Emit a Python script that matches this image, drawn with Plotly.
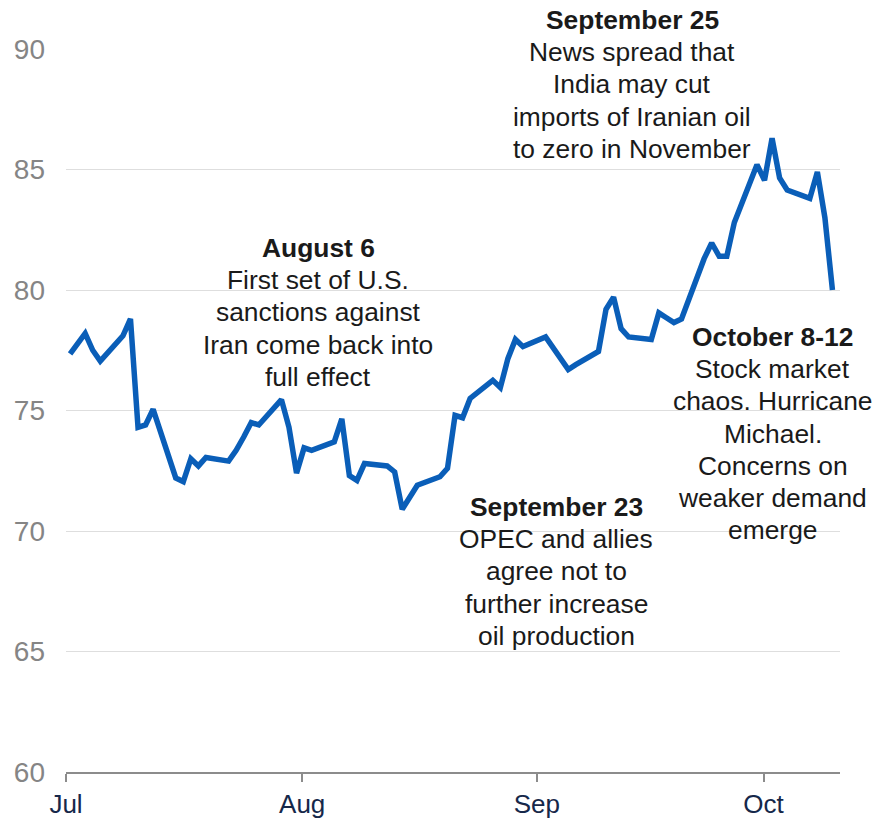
import plotly.graph_objects as go

dates = [
    "2018-07-02", "2018-07-03", "2018-07-04", "2018-07-05", "2018-07-06",
    "2018-07-09", "2018-07-10", "2018-07-11", "2018-07-12", "2018-07-13",
    "2018-07-16", "2018-07-17", "2018-07-18", "2018-07-19", "2018-07-20",
    "2018-07-23", "2018-07-24", "2018-07-25", "2018-07-26", "2018-07-27",
    "2018-07-30", "2018-07-31", "2018-08-01", "2018-08-02", "2018-08-03",
    "2018-08-06", "2018-08-07", "2018-08-08", "2018-08-09", "2018-08-10",
    "2018-08-13", "2018-08-14", "2018-08-15", "2018-08-16", "2018-08-17",
    "2018-08-20", "2018-08-21", "2018-08-22", "2018-08-23", "2018-08-24",
    "2018-08-27", "2018-08-28", "2018-08-29", "2018-08-30", "2018-08-31",
    "2018-09-03", "2018-09-04", "2018-09-05", "2018-09-06", "2018-09-07",
    "2018-09-10", "2018-09-11", "2018-09-12", "2018-09-13", "2018-09-14",
    "2018-09-17", "2018-09-18", "2018-09-19", "2018-09-20", "2018-09-21",
    "2018-09-24", "2018-09-25", "2018-09-26", "2018-09-27", "2018-09-28",
    "2018-10-01", "2018-10-02", "2018-10-03", "2018-10-04", "2018-10-05",
    "2018-10-08", "2018-10-09", "2018-10-10", "2018-10-11",
]
prices = [
    77.35, 77.8, 78.2, 77.5, 77.05,
    78.1, 78.8, 74.3, 74.4, 75.05,
    72.2, 72.05, 73.0, 72.7, 73.05,
    72.9, 73.35, 73.9, 74.5, 74.4,
    75.45, 74.3, 72.4, 73.45, 73.35,
    73.7, 74.65, 72.3, 72.1, 72.8,
    72.7, 72.45, 70.9, 71.4, 71.9,
    72.25, 72.6, 74.8, 74.7, 75.5,
    76.25, 75.95, 77.15, 77.95, 77.65,
    78.05, 77.6, 77.2, 76.7, 76.9,
    77.45, 79.2, 79.7, 78.4, 78.05,
    77.95, 79.05, 78.85, 78.65, 78.8,
    81.3, 81.95, 81.4, 81.4, 82.8,
    85.2, 84.55, 86.3, 84.65, 84.15,
    83.8, 84.9, 83.0, 80.0,
]

month_ticks = ["2018-07-01 11:00", "2018-08-01 18:00", "2018-09-01 20:00", "2018-10-01 21:00"]
month_labels = ["Jul", "Aug", "Sep", "Oct"]
y_ticks = [60, 65, 70, 75, 80, 85, 90]

# annotation blocks: title, body lines, paper x of block centre, paper y of first line
note_titles = ["September 25", "August 6", "September 23", "October 8-12"]
note_bodies = [
    ["News spread that", "India may cut", "imports of Iranian oil", "to zero in November"],
    ["First set of U.S.", "sanctions against", "Iran come back into", "full effect"],
    ["OPEC and allies", "agree not to", "further increase", "oil production"],
    ["Stock market", "chaos. Hurricane", "Michael.", "Concerns on", "weaker demand", "emerge"],
]
note_x = [0.7313, 0.3256, 0.6331, 0.9134]
note_y_top = [1.0401, 0.7248, 0.3665, 0.6017]
LINE_STEP = 0.04454

FONT = "Arial, Liberation Sans, sans-serif"

fig = go.Figure()
fig.add_trace(go.Scatter(
    x=dates, y=prices, mode="lines",
    line=dict(color="#0a5eb8", width=5.5),
    hoverinfo="skip", showlegend=False,
))

for title, body, nx, ny in zip(note_titles, note_bodies, note_x, note_y_top):
    lines = [f"<b>{title}</b>"] + body
    for i, txt in enumerate(lines):
        fig.add_annotation(
            text=txt, xref="paper", yref="paper",
            x=nx, y=ny - i * LINE_STEP,
            xanchor="center", yanchor="middle", align="center",
            showarrow=False,
            font=dict(family=FONT, size=26.4, color="#1a1a1a"),
        )

fig.update_layout(
    width=877, height=819,
    margin=dict(l=66, r=37, t=49, b=47),
    paper_bgcolor="white", plot_bgcolor="white",
    font=dict(family=FONT),
    showlegend=False,
)
fig.update_xaxes(
    type="date", automargin=False,
    range=["2018-07-01 11:00", "2018-10-12 00:00"],
    tickvals=month_ticks, ticktext=month_labels,
    showgrid=False, zeroline=False,
    showline=True, linecolor="#8c8c8c", linewidth=2,
    ticks="outside", ticklen=8, tickwidth=2, tickcolor="#8c8c8c",
    tickfont=dict(family=FONT, size=26, color="#16284a"),
)
fig.update_yaxes(
    automargin=False,
    range=[60, 90], tickvals=y_ticks,
    showgrid=True, gridcolor="#dedede", gridwidth=1,
    zeroline=False, showline=False, ticks="",
    ticklabelstandoff=20,
    tickfont=dict(family=FONT, size=28, color="#858585"),
)

fig.write_html(
    "out.html",
    config={"displayModeBar": False, "staticPlot": True},
    post_script="document.body.style.margin='0';",
)
